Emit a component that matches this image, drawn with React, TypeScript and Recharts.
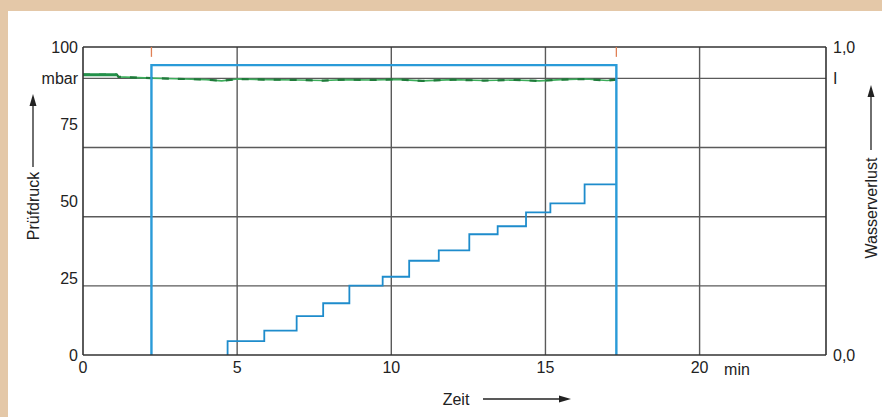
import React from "react"
import {
  LineChart,
  Line,
  XAxis,
  YAxis,
  ReferenceLine,
} from "recharts"

// Zeit (min) / Prüfdruck (mbar)
const pressureTime = [2.22, 2.22, 17.3, 17.3]
const pressureValue = [0, 94.1, 94.1, 0]

// green trace near the 90 mbar line
const levelTime = [0, 1.1, 1.15, 2.2, 3, 4, 4.5, 5, 6, 7, 7.8, 8.5, 9.4, 10.2, 11, 12, 13, 14, 14.8, 15.5, 16.3, 17.0, 17.3]
const levelValue = [91.0, 91.0, 90.3, 89.9, 89.7, 89.4, 89.0, 89.6, 89.4, 89.3, 89.1, 89.4, 89.3, 89.5, 89.0, 89.4, 89.1, 89.3, 89.0, 89.4, 89.6, 89.1, 89.4]
const startTime = [0, 1.1]
const startValue = [91.0, 91.0]

// Wasserverlust steps (right axis, 0..1)
const lossTime = [4.69, 4.69, 5.88, 6.93, 7.79, 8.64, 9.72, 10.58, 11.54, 12.53, 13.45, 14.37, 15.16, 16.27, 17.3]
const lossValue = [0, 0.045, 0.079, 0.126, 0.168, 0.225, 0.254, 0.306, 0.34, 0.392, 0.418, 0.463, 0.492, 0.554, 0.554]

// red markers at start / end of test
const markerTime = [2.22, 17.3]

const xTicks = [0, 5, 10, 15, 20]
const xGrid = [5, 10, 15, 20]
const yGrid = [22.45, 44.9, 67.35, 89.8]
const leftTicks = [0, 25, 50, 75, 89.8, 100]
const rightTicks = [0, 0.898, 1]

const pressure = pressureTime.map((x, i) => ({ x, y: pressureValue[i] }))
const level = levelTime.map((x, i) => ({ x, y: levelValue[i] }))
const start = startTime.map((x, i) => ({ x, y: startValue[i] }))
const loss = lossTime.map((x, i) => ({ x, y: lossValue[i] }))

const font = "'Liberation Sans', Arial, sans-serif"
const tickStyle = { fontSize: 16, fill: "#222", fontFamily: font }
const gridColor = "#5a5a5a"
const frameColor = "#333"

export default function App() {
  return (
    <div style={{ position: "absolute", left: 0, top: 0, width: 882, height: 417, background: "#e4c8a8", overflow: "hidden" }}>
      <div style={{ position: "absolute", left: 8, top: 11, width: 874, height: 406, background: "#fff" }} />
      <div style={{ position: "absolute", left: 0, top: 0 }}>
        <LineChart width={882} height={417} margin={{ top: 47, right: 0, bottom: 32, left: 0 }}>
          <XAxis
            type="number"
            dataKey="x"
            domain={[0, 24.1]}
            ticks={xTicks}
            interval={0}
            allowDataOverflow
            tickLine={false}
            tickSize={5}
            tickMargin={2}
            axisLine={{ stroke: frameColor, strokeWidth: 1.6 }}
            tick={tickStyle}
            height={30}
          />
          <YAxis
            yAxisId="p"
            type="number"
            domain={[0, 100]}
            ticks={leftTicks}
            interval={0}
            allowDataOverflow
            width={83}
            tickLine={false}
            tickSize={5}
            tickMargin={0}
            axisLine={{ stroke: frameColor, strokeWidth: 1.6 }}
            tick={tickStyle}
            tickFormatter={(v: number) => (v === 89.8 ? "mbar" : String(v))}
          />
          <YAxis
            yAxisId="w"
            orientation="right"
            type="number"
            domain={[0, 1]}
            ticks={rightTicks}
            interval={0}
            allowDataOverflow
            width={56}
            tickLine={false}
            tickSize={6}
            tickMargin={1}
            axisLine={{ stroke: frameColor, strokeWidth: 1.6 }}
            tick={tickStyle}
            tickFormatter={(v: number) => (v === 0 ? "0,0" : v === 1 ? "1,0" : "I")}
          />
          {xGrid.map((x) => (
            <ReferenceLine key={"gx" + x} yAxisId="p" x={x} stroke={gridColor} strokeWidth={1.4} />
          ))}
          {yGrid.map((y) => (
            <ReferenceLine key={"gy" + y} yAxisId="p" y={y} stroke={gridColor} strokeWidth={1.4} />
          ))}
          <ReferenceLine yAxisId="p" y={100} stroke={frameColor} strokeWidth={1.6} />
          {markerTime.map((x) => (
            <ReferenceLine
              key={"m" + x}
              yAxisId="p"
              segment={[{ x, y: 100 }, { x, y: 96.8 }]}
              stroke="#e08055"
              strokeWidth={1.3}
            />
          ))}
          <Line
            yAxisId="p"
            data={level}
            dataKey="y"
            type="linear"
            stroke="#3dae5c"
            strokeWidth={1.6}
            dot={false}
            activeDot={false}
            isAnimationActive={false}
          />
          <Line
            yAxisId="p"
            data={level}
            dataKey="y"
            type="linear"
            stroke="#1f7a3a"
            strokeWidth={2.2}
            strokeDasharray="7 9"
            dot={false}
            activeDot={false}
            isAnimationActive={false}
          />
          <Line
            yAxisId="p"
            data={start}
            dataKey="y"
            type="linear"
            stroke="#23914a"
            strokeWidth={3}
            dot={false}
            activeDot={false}
            isAnimationActive={false}
          />
          <Line
            yAxisId="w"
            data={loss}
            dataKey="y"
            type="stepAfter"
            stroke="#1e8ccc"
            strokeWidth={1.8}
            dot={false}
            activeDot={false}
            isAnimationActive={false}
          />
          <Line
            yAxisId="p"
            data={pressure}
            dataKey="y"
            type="linear"
            stroke="#2a9bd8"
            strokeWidth={2.4}
            dot={false}
            activeDot={false}
            isAnimationActive={false}
          />
        </LineChart>
      </div>
      <svg width={882} height={417} style={{ position: "absolute", left: 0, top: 0, pointerEvents: "none" }}>
        <g fontFamily={font} fontSize={16} fill="#222">
          <text x={33} y={206} transform="rotate(-90 33 206)" textAnchor="middle" dominantBaseline="central">Prüfdruck</text>
          <line x1={33} y1={167} x2={33} y2={104} stroke="#222" strokeWidth={1.3} />
          <polygon points="33,94 29.5,106 36.5,106" fill="#222" />
          <text x={871} y={208} transform="rotate(-90 871 208)" textAnchor="middle" dominantBaseline="central">Wasserverlust</text>
          <line x1={871} y1={150} x2={871} y2={95} stroke="#222" strokeWidth={1.3} />
          <polygon points="871,85 867.5,97 874.5,97" fill="#222" />
          <text x={456} y={399} textAnchor="middle" dominantBaseline="central">Zeit</text>
          <line x1={483} y1={399} x2={560} y2={399} stroke="#222" strokeWidth={1.3} />
          <polygon points="571,399 559,395.5 559,402.5" fill="#222" />
          <text x={737} y={369} textAnchor="middle" dominantBaseline="central">min</text>
        </g>
      </svg>
    </div>
  )
}
